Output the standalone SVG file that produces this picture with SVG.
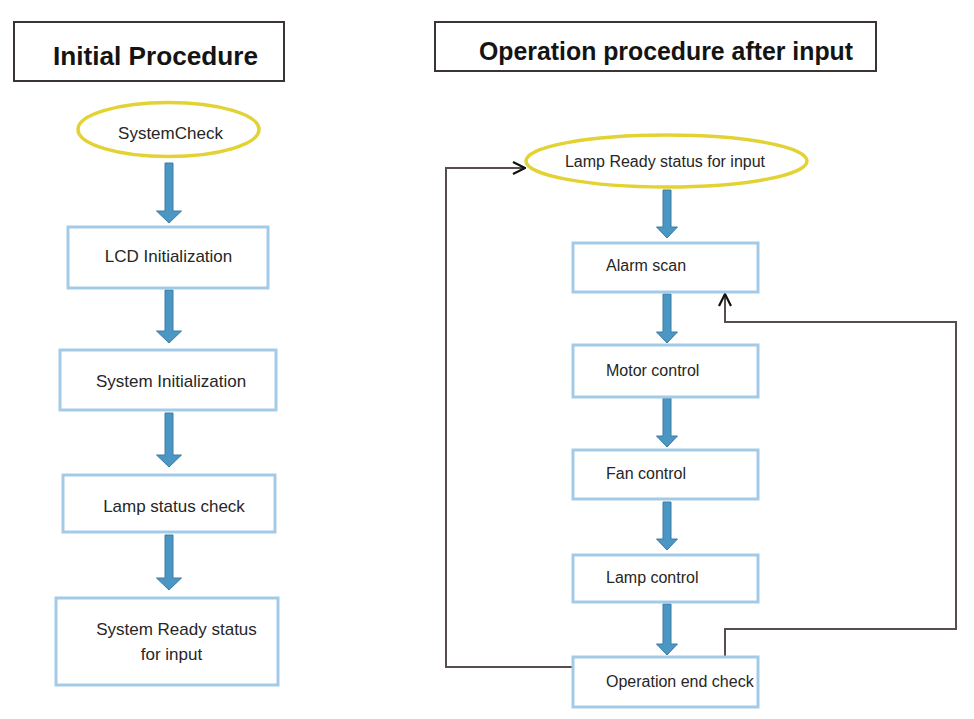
<svg xmlns="http://www.w3.org/2000/svg" width="974" height="719" viewBox="0 0 974 719">
<defs>
<style>
.title{fill:#fff;stroke:#3a3434;stroke-width:2}
.ttext{font-family:"Liberation Sans",Arial,sans-serif;font-weight:bold;fill:#141414}
.box{fill:#fff;stroke:#a3cbe8;stroke-width:3}
.ell{fill:#fff;stroke:#e3d233;stroke-width:3.5}
.lbl{font-family:"Liberation Sans",Arial,sans-serif;fill:#262626}
.big{font-size:17px}
.sm{font-size:16px}
.flow{fill:#4b96c3;stroke:#3a7ca6;stroke-width:1}
.conn{fill:none;stroke:#574d4d;stroke-width:2}
</style>
<marker id="chev" viewBox="0 0 14 14" refX="13" refY="7" markerWidth="14" markerHeight="14" markerUnits="userSpaceOnUse" orient="auto">
<path d="M1,1 L13,7 L1,13" fill="none" stroke="#111" stroke-width="2.2"/>
</marker>
</defs>
<rect width="974" height="719" fill="#fff"/>

<g id="title-left">
<rect class="title" x="14" y="22" width="270" height="59"/>
<text class="ttext" x="53" y="65" font-size="25" textLength="205" lengthAdjust="spacingAndGlyphs">Initial Procedure</text>
</g>
<g id="title-right">
<rect class="title" x="435" y="22" width="441" height="49"/>
<text class="ttext" x="479" y="60" font-size="25" textLength="374" lengthAdjust="spacingAndGlyphs">Operation procedure after input</text>
</g>

<g id="connectors">
<polygon class="flow" points="165,163 173,163 173,211 181.5,211 169,223 156.5,211 165,211"/>
<polygon class="flow" points="165,290 173,290 173,331 181.5,331 169,343 156.5,331 165,331"/>
<polygon class="flow" points="165,413 173,413 173,455 181.5,455 169,467 156.5,455 165,455"/>
<polygon class="flow" points="165,535 173,535 173,578 181.5,578 169,590 156.5,578 165,578"/>
<polygon class="flow" points="663,190 671,190 671,227 677.5,227 667,238 656.5,227 663,227"/>
<polygon class="flow" points="663,294 671,294 671,332 677.5,332 667,343 656.5,332 663,332"/>
<polygon class="flow" points="663,398 671,398 671,436 677.5,436 667,447 656.5,436 663,436"/>
<polygon class="flow" points="663,502 671,502 671,539 677.5,539 667,550 656.5,539 663,539"/>
<polygon class="flow" points="663,604 671,604 671,644 677.5,644 667,655 656.5,644 663,644"/>
<path class="conn" d="M573,667 H446 V168 H525" marker-end="url(#chev)"/>
<path class="conn" d="M725,657 V629 H956 V322 H725 V294" marker-end="url(#chev)"/>
</g>

<g id="systemcheck">
<ellipse class="ell" cx="168.5" cy="129.5" rx="90.5" ry="27"/>
<text class="lbl big" x="170.5" y="139" text-anchor="middle">SystemCheck</text>
</g>
<g id="lcd-init">
<rect class="box" x="68" y="227" width="200" height="61"/>
<text class="lbl big" x="168.5" y="262" text-anchor="middle">LCD Initialization</text>
</g>
<g id="system-init">
<rect class="box" x="60" y="350" width="216" height="60"/>
<text class="lbl big" x="171" y="387" text-anchor="middle">System Initialization</text>
</g>
<g id="lamp-status-check">
<rect class="box" x="63" y="475" width="212" height="57"/>
<text class="lbl big" x="174" y="512" text-anchor="middle">Lamp status check</text>
</g>
<g id="system-ready">
<rect class="box" x="56" y="598" width="222" height="87"/>
<text class="lbl big" x="176.5" y="635" text-anchor="middle">System Ready status</text>
<text class="lbl big" x="171.5" y="660" text-anchor="middle">for input</text>
</g>

<g id="lamp-ready">
<ellipse class="ell" cx="666.5" cy="161" rx="140.5" ry="26"/>
<text class="lbl sm" x="665" y="167" text-anchor="middle">Lamp Ready status for input</text>
</g>
<g id="alarm-scan">
<rect class="box" x="573" y="243" width="185" height="49"/>
<text class="lbl sm" x="606" y="271">Alarm scan</text>
</g>
<g id="motor-control">
<rect class="box" x="573" y="345" width="185" height="52"/>
<text class="lbl sm" x="606" y="376">Motor control</text>
</g>
<g id="fan-control">
<rect class="box" x="573" y="450" width="185" height="49"/>
<text class="lbl sm" x="606" y="479">Fan control</text>
</g>
<g id="lamp-control">
<rect class="box" x="573" y="555" width="185" height="47"/>
<text class="lbl sm" x="606" y="583">Lamp control</text>
</g>
<g id="operation-end-check">
<rect class="box" x="573" y="657" width="185" height="50"/>
<text class="lbl sm" x="606" y="687">Operation end check</text>
</g>
</svg>
